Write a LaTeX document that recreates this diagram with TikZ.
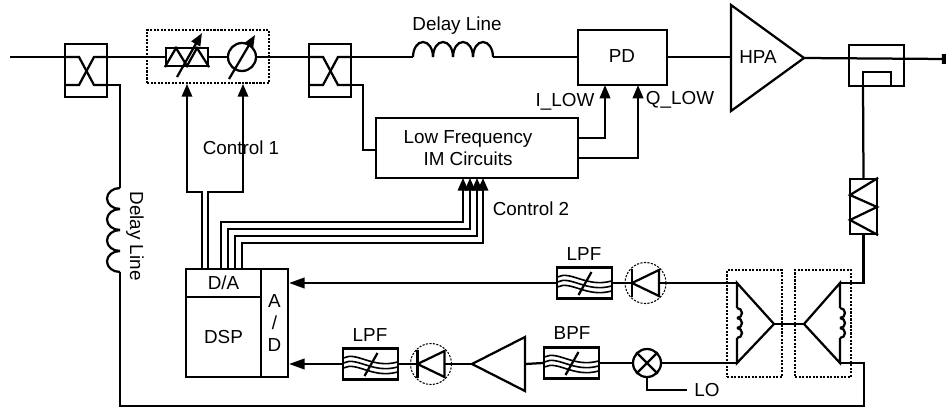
\documentclass[tikz,border=0pt]{standalone}
\usepackage{fontspec}
\setmainfont{Liberation Sans}
\usetikzlibrary{arrows.meta}
\tikzset{
	wire/.style={line width=1.6pt},
	thinwire/.style={line width=1.15pt},
	box/.style 2 args={draw,wire,inner sep=0pt,minimum width=#1*0.025cm,minimum height=#2*0.025cm},
	ring/.style={draw,wire,circle,inner sep=0pt,minimum size=#1*0.025cm},
	dotbox/.style={draw,line width=0.75pt,dash pattern=on 1.5pt off 1pt},
	txt/.style={inner sep=0pt,font=\fontsize{13.4}{15.4}\selectfont,align=center},
	upsig/.style={wire,-{Triangle[length=9.5pt,width=7.5pt]}},
	upbus/.style={thinwire,-{Triangle[length=9pt,width=7.5pt]}},
	leftsig/.style={wire,-{Triangle[length=11pt,width=7.5pt]}},
	tune/.style={wire,-{Triangle[length=9pt,width=7pt]}}
}
\begin{document}
\begin{tikzpicture}[x=0.025cm,y=0.025cm]
	\useasboundingbox (0,0) rectangle (946,-408);
	% upper rf path
	\coordinate (rfin) at (10,-57);
	\coordinate (rfout) at (946,-59);
	\foreach \cx/\nm in {65/cpla,309/cplb} {
		\node [box={42}{53}] (\nm) at (\cx+21,-70.5) {};
		\draw [wire] (\cx,-57) -- (\cx+14,-57) -- (\cx+29,-85) -- (\cx+42,-85);
		\draw [wire] (\cx,-85) -- (\cx+14,-85) -- (\cx+29,-57) -- (\cx+42,-57);
	}
	\node [dotbox,inner sep=0pt,minimum width=3.05cm,minimum height=1.325cm] (ctrlbox) at (208,-56.5) {};
	\node [box={42}{18}] (att) at (187,-57) {};
	\draw [wire] (att.south west) -- (176,-48) -- (187,-66) -- (197,-48) -- (att.south east);
	\coordinate (atta) at (177,-77);
	\coordinate (attb) at (202,-33);
	\draw [tune] (atta) -- (attb);
	\node [ring=28] (phs) at (242,-57) {};
	\coordinate (phsa) at (229,-79);
	\coordinate (phsb) at (255,-35);
	\draw [tune] (phsa) -- (phsb);
	\node [box={89}{55}] (pd) at (622.5,-57.5) {};
	\node [txt] (pdtxt) at (622,-56) {PD};
	\coordinate (dlya) at (413,-57);
	\coordinate (dlyb) at (493,-57);
	\node [txt] (dlytxt) at (457,-26) {Delay Line};
	\foreach \k in {0,...,3}
		\draw [wire] (413+20*\k,-57) arc [start angle=180,end angle=0,x radius=10,y radius=15];
	\coordinate (hpain) at (731,-57);
	\coordinate (hpaout) at (804,-58);
	\draw [wire,line join=miter] (731,-5) -- (hpaout) -- (731,-111) -- cycle;
	\node [txt] (hpa) at (758,-57) {HPA};
	\node [box={55}{41}] (cplc) at (876.5,-65.5) {};
	\coordinate (cplcin) at (863,-86);
	\draw [wire] (cplcin) -- (863,-72) -- (891,-72) -- (891,-86);
	\draw [wire] (rfin) -- (rfin -| cpla.west);
	\draw [wire] (cpla.east |- att.west) -- (att.west);
	\draw [wire] (att.east) -- (phs.west);
	\draw [wire] (phs.east) -- (phs.east -| cplb.west);
	\draw [wire] (cplb.east |- att.west) -- (dlya);
	\draw [wire] (dlyb) -- (pd.west |- dlyb);
	\draw [wire] (pd.east |- hpain) -- (hpain);
	\draw [wire,-{Square[length=3pt,width=7pt]}] (hpaout) -- (rfout);
	% low frequency circuits
	\node [box={202}{60}] (lfim) at (477,-148) {};
	\node [txt] (lfimtxt) at (468,-148) {Low Frequency\\IM Circuits};
	\draw [wire] (cplb.east |- 0,-85) -| (363,-150) -- (lfim.west |- 0,-150);
	\draw [upsig] (lfim.east |- 0,-138) -| (605,-85);
	\draw [upsig] (lfim.east |- 0,-158) -| (638,-85);
	\node [txt] (ilow) at (565,-102) {I\_LOW};
	\node [txt] (qlow) at (680,-100) {Q\_LOW};
	% dsp block
	\node [box={75}{80}] (dsp) at (223.5,-337) {};
	\node [txt] at (dsp.center) {DSP};
	\node [box={75}{28}] (da) at (223.5,-283) {};
	\node [txt] at (da.center) {D/A};
	\node [box={27}{108}] (ad) at (274.5,-323) {};
	\node [txt] at (ad.center) {A\\/\\D};
	\foreach \k/\sx/\ex in {1/202/187,2/208/243} {
		\coordinate (ctla\k) at (\sx,-269);
		\coordinate (ctlb\k) at (\ex,-84);
		\draw [upbus] (ctla\k) -- (ctla\k |- 0,-192) -| (ctlb\k);
	}
	\node [txt] (ctl1) at (241,-148) {Control 1};
	\foreach \k/\sx/\ly/\ex in {1/221/222/463,2/228/229/470,3/235/236/477,4/242/243/483} {
		\coordinate (busa\k) at (\sx,-269);
		\coordinate (busb\k) at (\ex,-178);
		\draw [upbus] (busa\k) -- (busa\k |- 0,-\ly) -| (busb\k);
	}
	\node [txt] (ctl2) at (531,-209) {Control 2};
	% filters
	\foreach \fx/\fy/\nm in {584.5/-283/lpfa,370.5/-364/lpfb,571.5/-363/bpf} {
		\node [box={55}{31}] (\nm) at (\fx,\fy) {};
		\foreach \off in {6,1,-4}
			\draw [thinwire] (\fx-27,\fy+\off) .. controls (\fx-14,\fy+\off+7) and (\fx+2,\fy+\off-11) .. (\fx+27,\fy+\off-4);
		\draw [wire] (\fx-6,\fy-12) -- (\fx+7,\fy+11);
	}
	\node [txt] (lpfatxt) at (584,-254) {LPF};
	\node [txt] (lpfbtxt) at (370,-335) {LPF};
	\node [txt] (bpftxt) at (572,-333) {BPF};
	% detectors
	\foreach \dx/\dy/\nm in {645.5/-283/dioa,431/-364/diob} {
		\node [dotbox,circle,inner sep=0pt,minimum size=1.025cm] (\nm) at (\dx,\dy) {};
		\coordinate (\nm-k) at (\dx-13.5,\dy);
		\coordinate (\nm-b) at (\dx+13.5,\dy);
		\draw [wire] (\dx-13.5,\dy+14) -- (\dx-13.5,\dy-14);
		\draw [wire,line join=miter] (\nm-k) -- (\dx+13.5,\dy+13) -- (\dx+13.5,\dy-13) -- cycle;
	}
	\coordinate (ampin) at (525,-364);
	\coordinate (ampout) at (472,-364);
	\draw [wire] (ampout) -- (525,-337) -- (525,-391) -- cycle;
	\node [ring=28] (mix) at (647,-363) {};
	\draw [wire] (mix.45) -- (mix.225) (mix.135) -- (mix.315);
	\coordinate (loend) at (687,-390);
	\node [txt] (lo) at (707,-390) {LO};
	\draw [wire] (mix.south) |- (loend);
	% splitters
	\node [dotbox,inner sep=0pt,minimum width=1.375cm,minimum height=2.675cm] (spla) at (754.5,-323.5) {};
	\node [dotbox,inner sep=0pt,minimum width=1.4cm,minimum height=2.675cm] (splb) at (823,-323.5) {};
	\coordinate (a1) at (737,-283);
	\coordinate (a2) at (737,-363);
	\coordinate (a3) at (774,-324);
	\coordinate (b1) at (840,-283);
	\coordinate (b2) at (840,-363);
	\coordinate (b3) at (804,-324);
	\draw [wire,line join=miter] (a3) -- (a1) -- (a2) -- cycle;
	\draw [wire,line join=miter] (b3) -- (b1) -- (b2) -- cycle;
	\draw [wire] (a3) -- (b3);
	\foreach \rx in {737,840} {
		\draw [line width=3.2pt,white] (\rx,-308) -- (\rx,-338);
		\foreach \k in {0,1,2}
			\draw [wire] (\rx,-308-10*\k) arc [start angle=90,end angle=-90,x radius=5,y radius=5];
	}
	% isolator and return paths
	\node [box={27}{55}] (iso) at (863.5,-206.5) {};
	\draw [wire] (iso.north east) -- (850,-195) -- (877,-207) -- (850,-220) -- (iso.south east);
	\draw [wire] (cplcin) -- (iso.north);
	\draw [wire] (iso.south) |- (b1);
	\draw [wire] (dioa-b) -- (a1);
	\draw [wire] (lpfa.east) -- (dioa-k);
	\draw [leftsig] (lpfa.west) -- (lpfa.west -| ad.east);
	\draw [wire] (mix.east) -- (a2);
	\draw [wire] (bpf.east) -- (mix.west);
	\draw [wire] (bpf.west) -- (ampin);
	\draw [wire] (ampout) -- (diob-b);
	\draw [wire] (diob-k) -- (lpfb.east);
	\draw [leftsig] (lpfb.west) -- (lpfb.west -| ad.east);
	% delay line back to coupler
	\coordinate (dlyc) at (120,-188);
	\coordinate (dlyd) at (120,-272);
	\draw [wire] (cpla.east |- 0,-85) -| (dlyc);
	\foreach \k in {0,...,3}
		\draw [wire] (120,-188-21*\k) arc [start angle=90,end angle=270,x radius=13,y radius=10.5];
	\draw [wire] (dlyd) -- (120,-406) -- (864,-406) -- (864,-363) -- (b2);
	\node [txt,rotate=-90] (dlyctxt) at (135,-236) {Delay Line};
\end{tikzpicture}
\end{document}
